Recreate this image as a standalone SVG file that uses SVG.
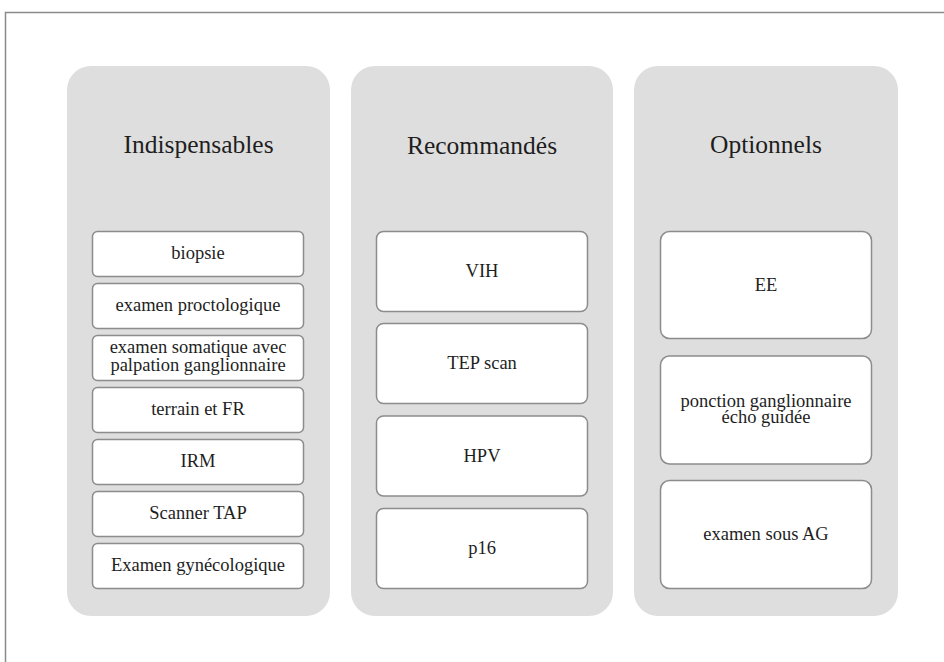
<svg xmlns="http://www.w3.org/2000/svg" width="944" height="662" viewBox="0 0 944 662">
<style>
.frame{fill:none;stroke:#8a8a8a;stroke-width:1.5}
.col{fill:#dedede}
.box{fill:#ffffff;stroke:#8c8c8c;stroke-width:1.5}
.title{font-family:"Liberation Serif","Times New Roman",serif;font-size:25.5px;fill:#1e1e1e;text-anchor:middle}
.lbl{font-family:"Liberation Serif","Times New Roman",serif;font-size:18.5px;fill:#1e1e1e;text-anchor:middle}
</style>
<rect width="944" height="662" fill="#ffffff"/>
<path class="frame" d="M5.5 662 V12.5 H944"/>
<g id="connectors"></g>
<g id="col-indispensables">
<rect class="col" x="67" y="66" width="263" height="550" rx="24"/>
<text class="title" x="198.5" y="153">Indispensables</text>
</g>
<g id="col-recommandes">
<rect class="col" x="351" y="66" width="262" height="550" rx="24"/>
<text class="title" x="482" y="154">Recommandés</text>
</g>
<g id="col-optionnels">
<rect class="col" x="634" y="66" width="264" height="550" rx="24"/>
<text class="title" x="766" y="153">Optionnels</text>
</g>
<g id="n-biopsie"><rect class="box" x="92.5" y="231.5" width="211" height="45" rx="5"/><text class="lbl" x="198" y="259">biopsie</text></g>
<g id="n-proctologique"><rect class="box" x="92.5" y="283.5" width="211" height="45" rx="5"/><text class="lbl" x="198" y="311">examen proctologique</text></g>
<g id="n-somatique"><rect class="box" x="92.5" y="335.5" width="211" height="45" rx="5"/><text class="lbl" x="198" y="353">examen somatique avec</text><text class="lbl" x="198" y="370.5">palpation ganglionnaire</text></g>
<g id="n-terrain"><rect class="box" x="92.5" y="387.5" width="211" height="45" rx="5"/><text class="lbl" x="198" y="415">terrain et FR</text></g>
<g id="n-irm"><rect class="box" x="92.5" y="439.5" width="211" height="45" rx="5"/><text class="lbl" x="198" y="467">IRM</text></g>
<g id="n-scanner"><rect class="box" x="92.5" y="491.5" width="211" height="45" rx="5"/><text class="lbl" x="198" y="519">Scanner TAP</text></g>
<g id="n-gyneco"><rect class="box" x="92.5" y="543.5" width="211" height="45" rx="5"/><text class="lbl" x="198" y="571">Examen gynécologique</text></g>
<g id="n-vih"><rect class="box" x="376.5" y="231.5" width="211" height="80" rx="7"/><text class="lbl" x="482" y="277">VIH</text></g>
<g id="n-tep"><rect class="box" x="376.5" y="323.5" width="211" height="80" rx="7"/><text class="lbl" x="482" y="369">TEP scan</text></g>
<g id="n-hpv"><rect class="box" x="376.5" y="416" width="211" height="80" rx="7"/><text class="lbl" x="482" y="462">HPV</text></g>
<g id="n-p16"><rect class="box" x="376.5" y="508.5" width="211" height="80" rx="7"/><text class="lbl" x="482" y="554">p16</text></g>
<g id="n-ee"><rect class="box" x="660.5" y="231.5" width="211" height="107" rx="9"/><text class="lbl" x="766" y="291">EE</text></g>
<g id="n-ponction"><rect class="box" x="660.5" y="356" width="211" height="108" rx="9"/><text class="lbl" x="766" y="406.5">ponction ganglionnaire</text><text class="lbl" x="766" y="423">écho guidée</text></g>
<g id="n-ag"><rect class="box" x="660.5" y="480.5" width="211" height="108" rx="9"/><text class="lbl" x="766" y="540">examen sous AG</text></g>
</svg>
